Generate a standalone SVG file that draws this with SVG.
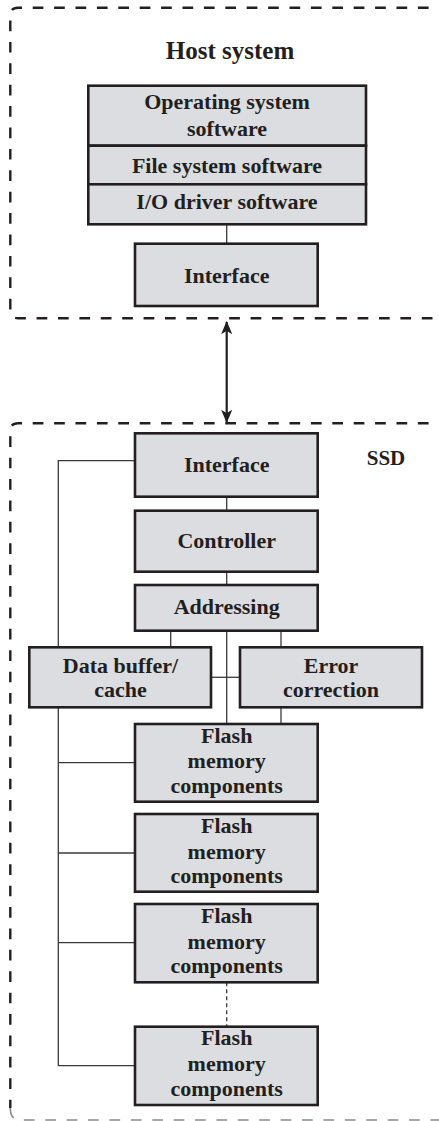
<svg xmlns="http://www.w3.org/2000/svg" width="439" height="1121" viewBox="0 0 439 1121">
<style>
.box{fill:#dcdde0;stroke:#231f20;stroke-width:2.6}
.t{font-family:"Liberation Serif","Times New Roman",serif;font-weight:bold;font-size:22px;fill:#231f20;text-anchor:middle}
.c{fill:none;stroke:#3a3a3a;stroke-width:1.3}
.frame{fill:none;stroke:#231f20;stroke-width:2.4;stroke-dasharray:10.7 10.7}
</style>
<defs>
<marker id="ah" viewBox="0 0 13 11" refX="12" refY="5.5" markerWidth="13" markerHeight="11" markerUnits="userSpaceOnUse" orient="auto-start-reverse">
<path d="M0,0 L13,5.5 L0,11 L3,5.5 Z" fill="#231f20"/>
</marker>
</defs>
<g id="host-frame">
<path class="frame" d="M450 7.7 H18 Q10.3 7.7 10.3 16 V310 Q10.3 318.3 18 318.3 H450"/>
<text class="t" x="230" y="59" style="font-size:25px">Host system</text>
</g>
<g id="ssd-frame">
<path class="frame" d="M450 423.3 H18 Q10.3 423.3 10.3 431 V1108"/>
<path d="M10.3 1108 Q10.3 1120 20 1120 H450" fill="none" stroke="#8a8a8a" stroke-width="1.6" stroke-dasharray="10.7 10.7"/>
<text class="t" x="386" y="465" style="font-size:21px">SSD</text>
</g>
<g id="connectors">
<line class="c" x1="226.7" y1="224.3" x2="226.7" y2="243.7"/>
<line x1="226.7" y1="322" x2="226.7" y2="422" stroke="#231f20" stroke-width="2.2" marker-start="url(#ah)" marker-end="url(#ah)"/>
<line class="c" x1="226.7" y1="496.7" x2="226.7" y2="510.7"/>
<line class="c" x1="226.7" y1="571.7" x2="226.7" y2="585"/>
<line class="c" x1="170.7" y1="630.7" x2="170.7" y2="647.3"/>
<line class="c" x1="281" y1="630.7" x2="281" y2="647.3"/>
<line class="c" x1="226.7" y1="630.7" x2="226.7" y2="724"/>
<line class="c" x1="211" y1="677.3" x2="240" y2="677.3"/>
<line class="c" x1="281" y1="707.3" x2="281" y2="724"/>
<path class="c" d="M135 460.7 H58.3 V647.3"/>
<path class="c" d="M58.3 707.3 V1065.7 H135"/>
<line class="c" x1="58.3" y1="762.7" x2="135" y2="762.7"/>
<line class="c" x1="58.3" y1="853" x2="135" y2="853"/>
<line class="c" x1="58.3" y1="942.7" x2="135" y2="942.7"/>
<line class="c" x1="226.7" y1="982.3" x2="226.7" y2="1026.7" stroke-dasharray="4 3"/>
</g>
<g id="os-software">
<rect class="box" x="88.3" y="85.7" width="277.7" height="60"/>
<text class="t" x="227" y="109.3">Operating system</text>
<text class="t" x="227" y="136">software</text>
</g>
<g id="fs-software">
<rect class="box" x="88.3" y="145.7" width="277.7" height="38.6"/>
<text class="t" x="227" y="172.7">File system software</text>
</g>
<g id="io-driver">
<rect class="box" x="88.3" y="184.3" width="277.7" height="40"/>
<text class="t" x="227" y="209">I/O driver software</text>
</g>
<g id="host-interface">
<rect class="box" x="135" y="243.7" width="182.7" height="62.3"/>
<text class="t" x="226.7" y="282.7">Interface</text>
</g>
<g id="ssd-interface">
<rect class="box" x="135" y="433.3" width="182.7" height="63.4"/>
<text class="t" x="226.7" y="471.7">Interface</text>
</g>
<g id="controller">
<rect class="box" x="135" y="510.7" width="182.7" height="61"/>
<text class="t" x="226.7" y="547.7">Controller</text>
</g>
<g id="addressing">
<rect class="box" x="135" y="585" width="182.7" height="45.7"/>
<text class="t" x="226.7" y="613.5">Addressing</text>
</g>
<g id="data-buffer">
<rect class="box" x="29.3" y="647.3" width="181.7" height="60"/>
<text class="t" x="120.5" y="672.7">Data buffer/</text>
<text class="t" x="120.5" y="697.3">cache</text>
</g>
<g id="error-correction">
<rect class="box" x="240" y="647.3" width="182" height="60"/>
<text class="t" x="331" y="672.7">Error</text>
<text class="t" x="331" y="697.3">correction</text>
</g>
<g id="flash-1">
<rect class="box" x="135" y="724" width="182.7" height="77.7"/>
<text class="t" x="226.7" y="742.7">Flash</text>
<text class="t" x="226.7" y="768">memory</text>
<text class="t" x="226.7" y="793.3">components</text>
</g>
<g id="flash-2">
<rect class="box" x="135" y="814" width="182.7" height="77.7"/>
<text class="t" x="226.7" y="833">Flash</text>
<text class="t" x="226.7" y="858.5">memory</text>
<text class="t" x="226.7" y="883.3">components</text>
</g>
<g id="flash-3">
<rect class="box" x="135" y="904" width="182.7" height="78.3"/>
<text class="t" x="226.7" y="922.7">Flash</text>
<text class="t" x="226.7" y="948.5">memory</text>
<text class="t" x="226.7" y="973.3">components</text>
</g>
<g id="flash-4">
<rect class="box" x="135" y="1026.7" width="182.7" height="78.3"/>
<text class="t" x="226.7" y="1045">Flash</text>
<text class="t" x="226.7" y="1071">memory</text>
<text class="t" x="226.7" y="1096">components</text>
</g>
</svg>
